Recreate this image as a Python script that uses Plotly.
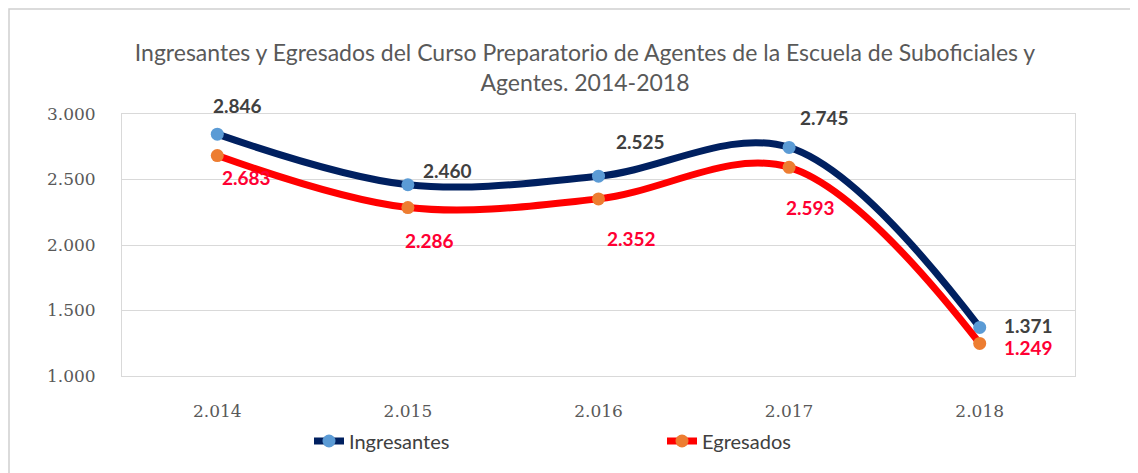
import plotly.graph_objects as go

# ---- data ----
years = ["2.014", "2.015", "2.016", "2.017", "2.018"]
ingresantes = [2846, 2460, 2525, 2745, 1371]
egresados = [2683, 2286, 2352, 2593, 1249]
y_ticks = [1000, 1500, 2000, 2500, 3000]
title_lines = ["Ingresantes y Egresados del Curso Preparatorio de Agentes de la Escuela de Suboficiales y",
               "Agentes. 2014-2018"]

# ---- style ----
NAVY = "#002060"
RED = "#FF0000"
LBLUE = "#5B9BD5"
ORANGE = "#ED7D31"
DARK_TXT = "#404040"
RED_TXT = "#FF0033"
GRID = "#D9D9D9"

# label offsets (pixels) relative to each point
ing_offsets = [(20, -29), (40, -14), (42, -35), (35, -30), (49, -2)]
egr_offsets = [(29, 22), (22, 33), (33, 40), (21, 40), (49, 4)]

# page body has an 8px margin, so the figure is drawn at (8, 8)
W, H = 1130, 465
L, R, T, B = 114, 63, 106, 97


def fmt(v):
    return f"{v:,}".replace(",", ".")


fig = go.Figure()
fig.add_trace(go.Scatter(
    x=years, y=ingresantes, name="Ingresantes", mode="lines+markers",
    line=dict(color=NAVY, width=7, shape="spline", smoothing=1.0),
    marker=dict(color=LBLUE, size=13),
))
fig.add_trace(go.Scatter(
    x=years, y=egresados, name="Egresados", mode="lines+markers",
    line=dict(color=RED, width=7, shape="spline", smoothing=1.0),
    marker=dict(color=ORANGE, size=13),
))

annotations = []
for vs, offs, col in ((ingresantes, ing_offsets, DARK_TXT),
                      (egresados, egr_offsets, RED_TXT)):
    for i, (v, (dx, dy)) in enumerate(zip(vs, offs)):
        annotations.append(dict(
            x=i, y=v, xref="x", yref="y", text=fmt(v), showarrow=False,
            xshift=dx, yshift=-dy,
            font=dict(family="Lato", size=19, color=col, weight="bold"),
        ))

# outer frame
pw, ph = W - L - R, H - T - B
fig.add_shape(type="rect", xref="paper", yref="paper",
              x0=(1 - L) / pw, x1=(W + 5 - L) / pw,
              y0=-(H + 5 - T - ph) / ph, y1=1 + (T - 1) / ph,
              line=dict(color="#D0D0D0", width=1.5), layer="below")

fig.update_layout(
    width=W, height=H,
    margin=dict(l=L, r=R, t=T, b=B, autoexpand=False),
    paper_bgcolor="white", plot_bgcolor="white",
    separators=",.",
    title=dict(text="<br>".join(title_lines), x=577 / W, xanchor="center",
               y=1 - 53 / H, yanchor="top", automargin=False,
               font=dict(family="Lato", size=23, color="#595959")),
    xaxis=dict(type="category", range=[-0.5, 4.5], showgrid=False,
               showline=True, linecolor=GRID, mirror=True,
               tickfont=dict(family="DejaVu Serif", size=17, color="#595959"),
               ticklabelstandoff=20),
    yaxis=dict(range=[1000, 3000], tickvals=y_ticks, tickformat=",.0f",
               showgrid=True, gridcolor=GRID, gridwidth=1,
               showline=True, linecolor=GRID, mirror=True, zeroline=False,
               tickfont=dict(family="DejaVu Serif", size=17, color="#595959"),
               ticklabelstandoff=22),
    showlegend=True,
    legend=dict(orientation="h", x=(301 - L) / pw, xanchor="left",
                y=-(433 - (T + ph)) / ph, yanchor="middle",
                entrywidth=308, entrywidthmode="pixels",
                font=dict(family="Lato", size=20, color=DARK_TXT)),
    annotations=annotations,
)

fig.write_html("out.html")
